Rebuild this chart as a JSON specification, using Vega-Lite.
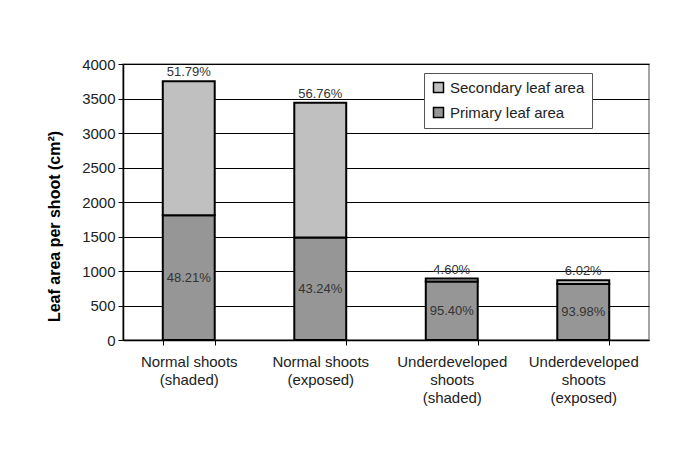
{
  "$schema": "https://vega.github.io/schema/vega-lite/v6.json",
  "autosize": {"type": "none"},
  "width": 526,
  "height": 276,
  "padding": {"left": 123, "top": 64, "right": 44, "bottom": 116},
  "background": "white",
  "config": {
    "font": "Liberation Sans",
    "view": {"stroke": "#888888", "strokeWidth": 1.5},
    "axis": {"labelFont": "Liberation Sans", "titleFont": "Liberation Sans", "labelColor": "#222", "domainColor": "#000", "tickColor": "#000"},
    "axisY": {
      "titleFontSize": 16, "titleFontWeight": "bold",
      "titleColor": "#000", "titlePadding": 19, "format": "d",
      "values": [0, 500, 1000, 1500, 2000, 2500, 3000, 3500, 4000],
      "labelFontSize": 15, "labelPadding": 3, "tickSize": 5, "domainWidth": 1.5,
      "grid": true, "gridColor": "#000", "gridWidth": 1, "labelOverlap": false
    }
  },
  "data": {
    "values": [
      {"shoot": "Normal shoots|(shaded)", "type": "Primary leaf area", "value": 1808, "pct": "48.21%"},
      {"shoot": "Normal shoots|(shaded)", "type": "Secondary leaf area", "value": 1942, "pct": "51.79%"},
      {"shoot": "Normal shoots|(exposed)", "type": "Primary leaf area", "value": 1487, "pct": "43.24%"},
      {"shoot": "Normal shoots|(exposed)", "type": "Secondary leaf area", "value": 1953, "pct": "56.76%"},
      {"shoot": "Underdeveloped|shoots|(shaded)", "type": "Primary leaf area", "value": 849, "pct": "95.40%"},
      {"shoot": "Underdeveloped|shoots|(shaded)", "type": "Secondary leaf area", "value": 41, "pct": "4.60%"},
      {"shoot": "Underdeveloped|shoots|(exposed)", "type": "Primary leaf area", "value": 813, "pct": "93.98%"},
      {"shoot": "Underdeveloped|shoots|(exposed)", "type": "Secondary leaf area", "value": 52, "pct": "6.02%"}
    ]
  },
  "transform": [
    {"stack": "value", "groupby": ["shoot"], "sort": [{"field": "type", "order": "ascending"}], "as": ["v0", "v1"]},
    {"calculate": "(datum.v0 + datum.v1) / 2", "as": "vmid"}
  ],
  "encoding": {
    "x": {
      "field": "shoot", "type": "nominal", "sort": null,
      "scale": {"paddingInner": 0.605, "paddingOuter": 0.3025},
      "axis": {
        "title": null, "labelAngle": 0, "labelFontSize": 15, "labelPadding": 9,
        "labelExpr": "split(datum.label, '|')", "labelLineHeight": 18,
        "tickBand": "extent", "tickSize": 5, "domainWidth": 1.5, "labelBaseline": "top"
      }
    }
  },
  "layer": [
    {
      "mark": {"type": "bar", "stroke": "#000", "strokeWidth": 2},
      "encoding": {
        "y": {"field": "v0", "type": "quantitative", "scale": {"domain": [0, 4000]},
              "axis": {"title": "Leaf area per shoot (cm²)", "titleY": 162, "titleAlign": "center"}},
        "y2": {"field": "v1"},
        "color": {
          "field": "type", "type": "nominal",
          "scale": {"domain": ["Secondary leaf area", "Primary leaf area"], "range": ["#c0c0c0", "#969696"]},
          "legend": {
            "title": null, "orient": "none", "legendX": 301, "legendY": 9,
            "symbolType": "square", "symbolSize": 100, "symbolStrokeColor": "#000", "symbolStrokeWidth": 1.5,
            "labelFontSize": 15, "labelColor": "#222", "rowPadding": 8, "labelOffset": 4,
            "fillColor": "white", "strokeColor": "#555", "padding": 7
          }
        }
      }
    },
    {
      "transform": [{"filter": "datum.type == 'Secondary leaf area'"}],
      "mark": {"type": "text", "fontSize": 13, "color": "#333", "baseline": "bottom", "dy": -2},
      "encoding": {
        "y": {"field": "v1", "type": "quantitative", "axis": {"title": "Leaf area per shoot (cm²)", "titleY": 162, "titleAlign": "center"}},
        "text": {"field": "pct"}
      }
    },
    {
      "transform": [{"filter": "datum.type == 'Primary leaf area'"}],
      "mark": {"type": "text", "fontSize": 13, "color": "#333", "baseline": "middle"},
      "encoding": {
        "y": {"field": "vmid", "type": "quantitative", "axis": {"title": "Leaf area per shoot (cm²)", "titleY": 162, "titleAlign": "center"}},
        "text": {"field": "pct"}
      }
    }
  ]
}
